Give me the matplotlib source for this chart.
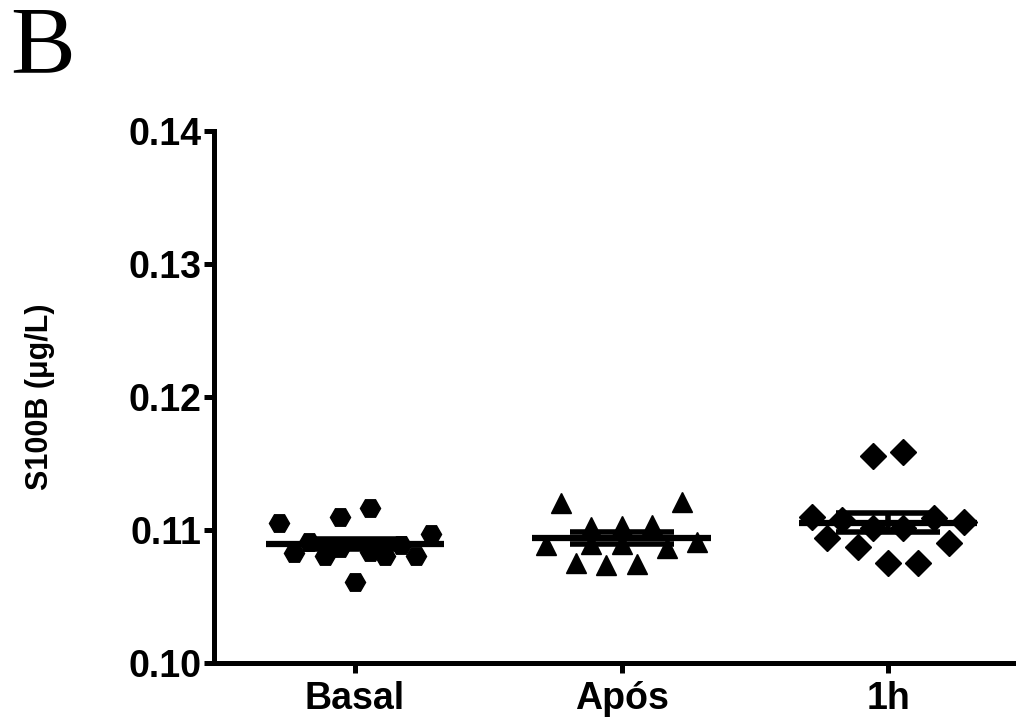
import numpy as np
import matplotlib
matplotlib.use("Agg")
from matplotlib import pyplot as plt

groups = ["Basal", "Após", "1h"]
markers = ["H", "^", "D"]
marker_sizes = [14.5, 14.5, 12.8]

# S100B (ug/L) per subject, with horizontal slot used to spread the points
basal = [0.11053, 0.10827, 0.10910, 0.10805, 0.11098, 0.10865, 0.10609,
         0.11165, 0.10835, 0.10805, 0.10887, 0.10805, 0.10970]
basal_slot = [-5, -4, -3, -2, -1, -1, 0, 1, 1, 2, 3, 4, 5]

apos = [0.10887, 0.11203, 0.10752, 0.11023, 0.10895, 0.10737, 0.11030,
        0.10895, 0.10744, 0.11038, 0.10865, 0.11211, 0.10910]
apos_slot = [-5, -4, -3, -2, -2, -1, 0, 0, 1, 2, 3, 4, 5]

uma_h = [0.11098, 0.10940, 0.11075, 0.10872, 0.11556, 0.11015, 0.10752,
         0.11586, 0.11015, 0.10752, 0.11090, 0.10902, 0.11060]
uma_h_slot = [-5, -4, -3, -2, -1, -1, 0, 1, 1, 2, 3, 4, 5]

values = [basal, apos, uma_h]
slots = [basal_slot, apos_slot, uma_h_slot]

yticks = [0.10, 0.11, 0.12, 0.13, 0.14]

plt.rcParams["font.family"] = ["Liberation Sans", "DejaVu Sans"]
plt.rcParams["font.weight"] = "bold"

fig = plt.figure(figsize=(10.16, 7.24), dpi=100)
ax = fig.add_axes([214 / 1016, 61 / 724, 1 - 214 / 1016, 532 / 724])

spread = 0.057
for i, (vals, sl) in enumerate(zip(values, slots)):
    vals = np.array(vals)
    xs = i + np.array(sl) * spread
    ax.plot(xs, vals, linestyle="none", marker=markers[i],
            markersize=marker_sizes[i], color="black", clip_on=False, zorder=3)
    mean = vals.mean()
    sem = vals.std(ddof=1) / np.sqrt(len(vals))
    ax.hlines(mean, i - 0.335, i + 0.335, color="black", lw=4.5, zorder=4)
    ax.hlines([mean - sem, mean + sem], i - 0.195, i + 0.195,
              color="black", lw=4, zorder=4)
    ax.vlines(i, mean - sem, mean + sem, color="black", lw=4, zorder=4)

ax.set_xlim(-0.529, 2.48)
ax.set_ylim(0.10, 0.14)
ax.set_xticks(range(len(groups)))
ax.set_xticklabels(groups)
ax.set_yticks(yticks)
ax.set_yticklabels(["%.2f" % t for t in yticks])

for side in ["top", "right"]:
    ax.spines[side].set_visible(False)
for side in ["left", "bottom"]:
    ax.spines[side].set_linewidth(3.6)

ax.tick_params(axis="both", labelsize=27, width=3.6, length=7, color="black")
ax.tick_params(axis="y", pad=2)
ax.tick_params(axis="x", pad=6)

ax.set_ylabel("S100B (μg/L)", fontsize=22, fontweight="bold")
ax.yaxis.set_label_coords(-0.198, 0.5)

fig.text(10 / 1016, 1 - 6 / 724, "B", family="Liberation Serif",
         fontweight="normal", fontsize=70, va="top", ha="left")

fig.savefig("out.png", dpi=100)
